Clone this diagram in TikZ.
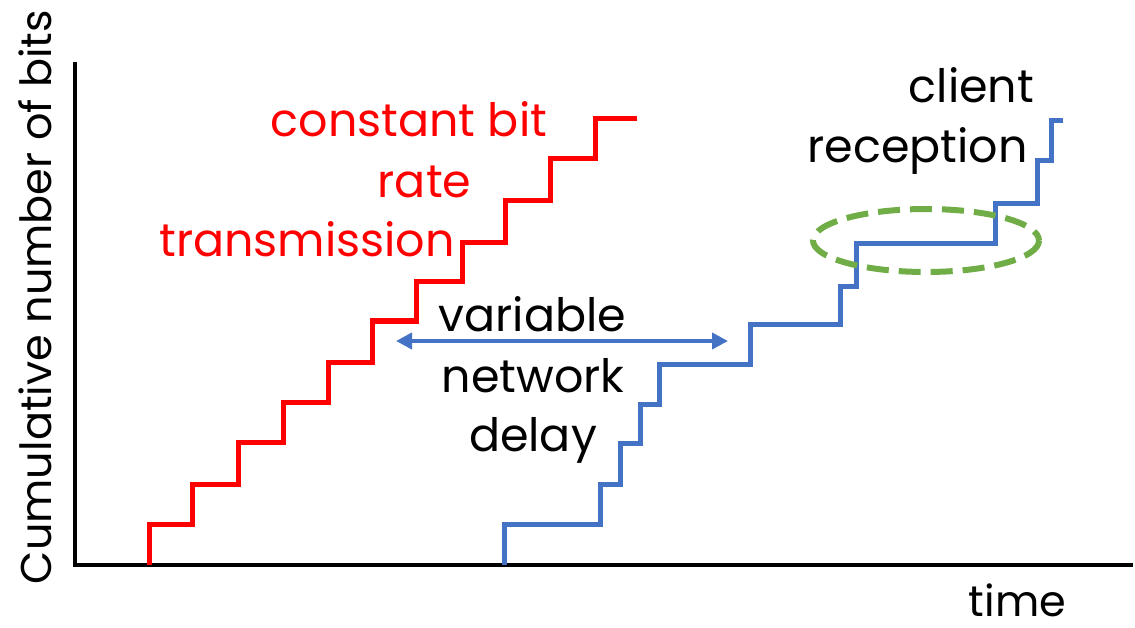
\documentclass[tikz,border=0pt]{standalone}
\usepackage{fontspec}
\setmainfont{Poppins}
\usetikzlibrary{arrows.meta}
\definecolor{cbrred}{HTML}{FF0000}
\definecolor{rxblue}{HTML}{4472C4}
\definecolor{jitgreen}{HTML}{70AD47}
\tikzset{
  lbl/.style={inner sep=0pt, font=\fontsize{46}{52}\selectfont, anchor=base},
  axislbl/.style={inner sep=0pt, font=\fontsize{43}{50}\selectfont, anchor=base},
  axisline/.style={line width=4.5pt, black, line join=miter},
  sendcurve/.style={line width=5pt, cbrred, line join=miter},
  recvcurve/.style={line width=5pt, rxblue, line join=miter},
  delayarrow/.style={line width=4pt, rxblue, {Triangle[length=16pt,width=16pt]}-{Triangle[length=16pt,width=16pt]}},
  jitterring/.style={line width=6pt, jitgreen, dash pattern=on 22pt off 10pt}
}
\begin{document}
\begin{tikzpicture}[x=1pt,y=-1pt]
\useasboundingbox (0,0) rectangle (1135,628);

% axes
\draw[axisline] (75,62) -- (75,565) -- (1133,565);

% sender: constant bit rate staircase
\draw[sendcurve] (149,565) -- (149,524) -- (192,524) -- (192,484) -- (238,484)
  -- (238,442) -- (283,442) -- (283,402) -- (328,402) -- (328,362) -- (372,362)
  -- (372,321) -- (416,321) -- (416,282) -- (462,282) -- (462,243) -- (505,243)
  -- (505,201) -- (550,201) -- (550,159) -- (595,159) -- (595,119) -- (637,119);

% receiver: staircase shaped by variable delay
\draw[recvcurve] (504,565) -- (504,524) -- (600,524) -- (600,484) -- (620,484)
  -- (620,443) -- (640,443) -- (640,404) -- (659,404) -- (659,364) -- (750,364)
  -- (750,324) -- (840,324) -- (840,287) -- (856,287) -- (856,244) -- (995,244)
  -- (995,204) -- (1037,204) -- (1037,161) -- (1051,161) -- (1051,121) -- (1063,121);

% highlighted long plateau
\draw[jitterring] (926,240.5) ellipse [x radius=113, y radius=31.5];

% delay arrow
\coordinate (dl) at (396,341);
\coordinate (dr) at (728,341);
\draw[delayarrow] (dl) -- (dr);

% labels
\node[lbl, cbrred] (t1) at (409,137) {constant bit};
\node[lbl, cbrred] (t2) at (424.5,198) {rate};
\node[lbl, cbrred] (t3) at (307,257) {transmission};

\node[lbl] (d1) at (532.5,331) {variable};
\node[lbl] (d2) at (533,392) {network};
\node[lbl] (d3) at (533,451) {delay};

\node[lbl] (c1) at (971.5,103) {client};
\node[lbl] (c2) at (917.5,163) {reception};

\node[axislbl] (xl) at (1017.5,616) {time};
\node[axislbl, rotate=90] (yl) at (51,297) {Cumulative number of bits};
\end{tikzpicture}
\end{document}
